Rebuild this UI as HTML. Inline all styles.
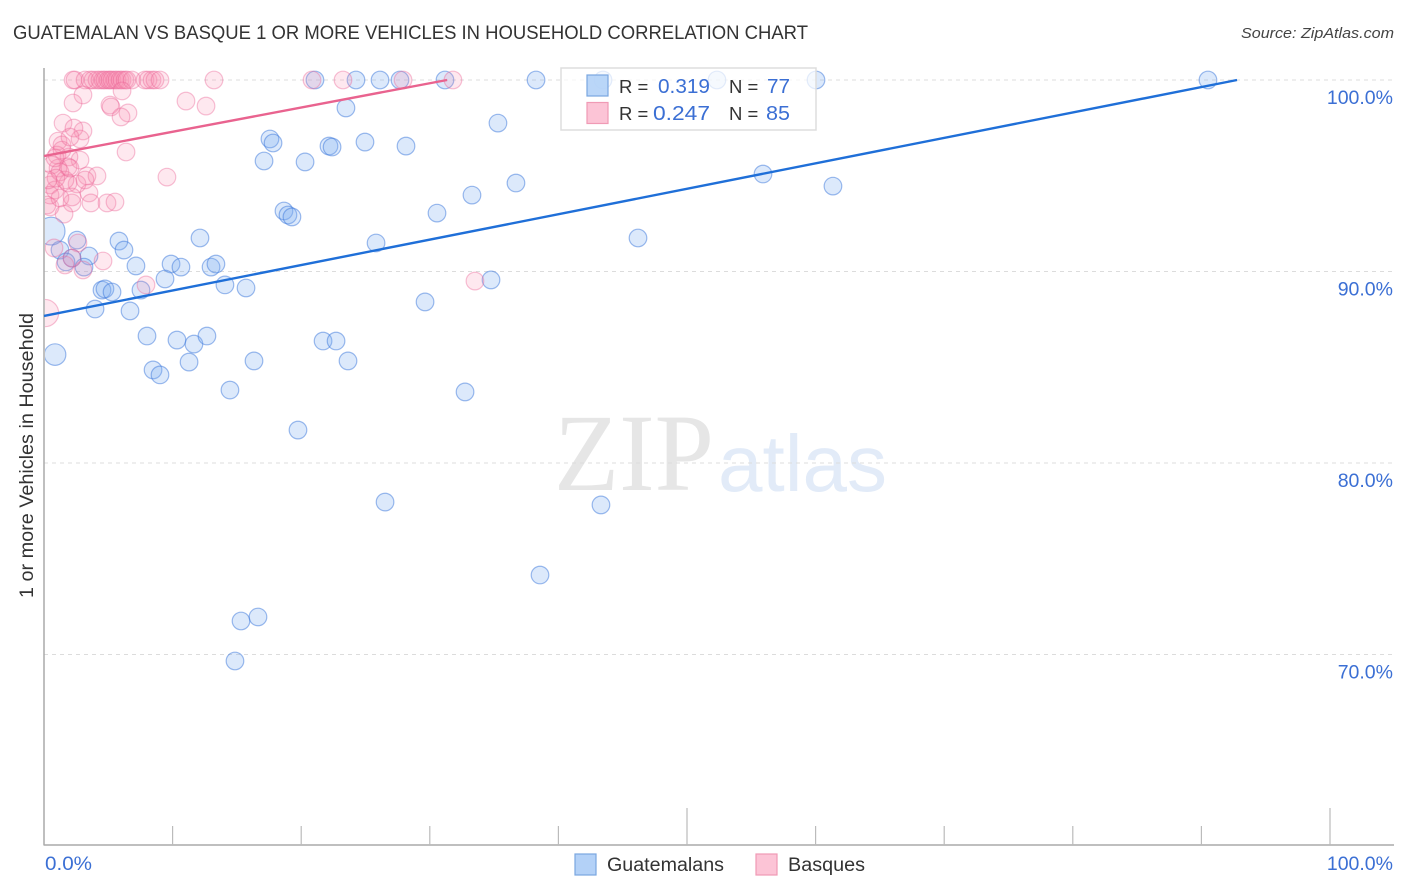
<!DOCTYPE html>
<html lang="en">
<head>
<meta charset="utf-8">
<title>Guatemalan vs Basque 1 or more Vehicles in Household Correlation Chart</title>
<style>
html,body{margin:0;padding:0;background:#fff;width:1406px;height:892px;overflow:hidden}
svg{display:block}
text{font-family:"Liberation Sans",sans-serif}
</style>
</head>
<body>
<svg id="chart" xmlns="http://www.w3.org/2000/svg" width="1406" height="892" viewBox="0 0 1406 892">
  <defs><clipPath id="plot-clip"><rect x="45" y="60" width="1349" height="785"/></clipPath></defs>
  <text x="13" y="39" font-size="19" fill="#333" textLength="795" lengthAdjust="spacingAndGlyphs">GUATEMALAN VS BASQUE 1 OR MORE VEHICLES IN HOUSEHOLD CORRELATION CHART</text>
  <text x="1394" y="38" font-size="15" font-style="italic" fill="#444" text-anchor="end" textLength="153" lengthAdjust="spacingAndGlyphs">Source: ZipAtlas.com</text>
  <text transform="translate(33,598) rotate(-90)" font-size="19" fill="#333" textLength="285" lengthAdjust="spacingAndGlyphs">1 or more Vehicles in Household</text>
  <g>
    <text x="554" y="490" font-size="110" fill="#e6e6e6" style="font-family:'Liberation Serif',serif" textLength="160" lengthAdjust="spacingAndGlyphs">ZIP</text>
    <text x="718" y="491" font-size="80" fill="#e2ebf8" textLength="169" lengthAdjust="spacingAndGlyphs">atlas</text>
  </g>
  <g id="grid"></g>
  <g id="axes"></g>
  <g id="marks" clip-path="url(#plot-clip)"></g>
  <g id="trends"></g>
  <g>
    <rect x="561" y="68" width="255" height="62" fill="#fff" fill-opacity="0.72" stroke="#ddd" stroke-width="1.5"/>
    <rect x="587" y="75" width="21" height="21" fill="#b3d1f7" fill-opacity="0.9" stroke="#7aa6e0" stroke-width="1.2"/>
    <rect x="587" y="102.5" width="21" height="21" fill="#fcc4d6" stroke="#f09ab5" stroke-width="1.2"/>
    <text x="619" y="93" font-size="18.5" fill="#333">R =</text>
    <text x="710" y="93" font-size="20" fill="#3b6fd4" text-anchor="end" textLength="52" lengthAdjust="spacingAndGlyphs">0.319</text>
    <text x="729" y="93" font-size="18.5" fill="#333">N =</text>
    <text x="790" y="93" font-size="20" fill="#3b6fd4" text-anchor="end" textLength="23" lengthAdjust="spacingAndGlyphs">77</text>
    <text x="619" y="120" font-size="18.5" fill="#333">R =</text>
    <text x="710" y="120" font-size="20" fill="#3b6fd4" text-anchor="end" textLength="57" lengthAdjust="spacingAndGlyphs">0.247</text>
    <text x="729" y="120" font-size="18.5" fill="#333">N =</text>
    <text x="790" y="120" font-size="20" fill="#3b6fd4" text-anchor="end" textLength="24" lengthAdjust="spacingAndGlyphs">85</text>
  </g>
  <g>
    <rect x="575" y="854" width="21" height="21" fill="#b3d1f7" stroke="#7aa6e0" stroke-width="1.2"/>
    <text x="607" y="871" font-size="19" fill="#333" textLength="117" lengthAdjust="spacingAndGlyphs">Guatemalans</text>
    <rect x="756" y="854" width="21" height="21" fill="#fcc4d6" stroke="#f09ab5" stroke-width="1.2"/>
    <text x="788" y="871" font-size="19" fill="#333" textLength="77" lengthAdjust="spacingAndGlyphs">Basques</text>
  </g>
</svg>
<script>
const yTickValues = [100, 90, 80, 70];
const yTickLabels = ["100.0%", "90.0%", "80.0%", "70.0%"];
const xTickValues = [0, 10, 20, 30, 40, 50, 60, 70, 80, 90, 100];
const xEndLabels = ["0.0%", "100.0%"];

const guatemalanX = [21.07,24.26,26.13,27.68,31.18,38.26,43.47,52.33,60.03,90.51,23.48,17.57,17.81,17.11,20.30,22.16,22.40,24.96,28.15,35.30,33.28,36.70,30.56,55.91,61.35,18.66,18.97,19.28,25.82,46.19,12.13,5.83,6.22,2.57,1.24,2.18,1.71,3.50,3.11,7.15,9.88,10.65,12.99,13.37,9.41,14.07,15.71,4.51,4.74,5.29,7.54,3.97,6.69,8.01,10.34,11.66,12.67,21.70,22.71,23.64,16.33,11.28,8.48,9.02,14.46,32.74,19.75,26.52,43.31,38.57,15.32,16.64,14.85,29.63,34.76];
const guatemalanY = [100,100,100,100,100,100,100,100,100,100,98.54,96.92,96.71,95.77,95.72,96.55,96.50,96.76,96.55,97.75,93.99,94.62,93.05,95.09,94.46,93.16,92.95,92.85,91.49,91.75,91.75,91.59,91.12,91.64,91.12,90.70,90.50,90.81,90.23,90.29,90.39,90.23,90.23,90.39,89.61,89.30,89.14,89.03,89.09,88.93,89.03,88.04,87.94,86.63,86.42,86.21,86.63,86.37,86.37,85.33,85.33,85.27,84.86,84.60,83.81,83.71,81.72,77.96,77.81,74.15,71.75,71.96,69.66,88.41,89.56];
const guatemalanLargeX = [0.55, 0.86];
const guatemalanLargeY = [92.11, 85.66];
const guatemalanLargeWeight = [2.5, 1.5];

const basqueX = [2.26,2.41,3.19,3.58,3.81,4.12,4.35,4.59,4.74,4.98,5.13,5.29,5.52,5.68,5.91,6.07,6.30,6.45,6.84,7.85,8.09,8.40,8.63,9.02,13.22,20.84,23.25,27.92,31.80,3.03,2.26,5.13,5.21,6.07,6.53,5.99,11.04,12.60,1.48,3.03,2.33,2.80,1.09,6.38,2.80,1.40,1.01,1.94,3.34,4.12,9.56,1.87,1.09,0.47,2.57,1.87,3.50,2.18,3.65,4.90,5.52,1.56,0.47,0.23,0.62,1.24,0.86,1.40,2.02,0.86,0.47,1.24,3.19,1.63,0.93,2.18,0.31,2.02,0.78,2.64,1.63,3.03,4.59,7.93,33.51,2.18];
const basqueY = [100,100,100,100,100,100,100,100,100,100,100,100,100,100,100,100,100,100,100,100,100,100,100,100,100,100,100,100,100,99.22,98.80,98.69,98.59,99.43,98.28,98.07,98.90,98.64,97.75,97.34,97.49,96.92,96.81,96.24,95.82,96.61,96.08,95.98,94.99,94.99,94.93,95.46,95.40,94.52,94.57,94.62,94.10,93.58,93.58,93.58,93.63,93.00,93.37,93.47,95.56,95.20,95.93,96.34,97.02,94.26,93.99,93.84,94.78,94.78,94.88,93.89,94.78,95.40,91.23,91.49,90.34,90.08,90.55,89.30,89.50,90.70];
const basqueLargeX = [0.08];
const basqueLargeY = [87.83];
const basqueLargeWeight = [2.4];

const guatemalanTrendX = [0, 92.77];
const guatemalanTrendY = [87.68, 100];
const basqueTrendX = [0, 31.34];
const basqueTrendY = [96.03, 100];

const NS = "http://www.w3.org/2000/svg";
const xScale = v => 44 + v * 12.86;
const yScale = v => 80 + (100 - v) * 19.15;
const gridLayer = document.getElementById("grid");
const axesLayer = document.getElementById("axes");
const marksLayer = document.getElementById("marks");
const trendsLayer = document.getElementById("trends");

function svgEl(tag, attrs, parent) {
  const el = document.createElementNS(NS, tag);
  for (const k in attrs) el.setAttribute(k, attrs[k]);
  parent.appendChild(el);
  return el;
}

yTickValues.forEach((v, i) => {
  const line = svgEl("line", {x1: 44, x2: 1394, y1: yScale(v), y2: yScale(v), stroke: "#dcdcdc", "stroke-width": 1, "stroke-dasharray": "4 4"}, gridLayer);
  
  
  const label = svgEl("text", {x: 1393, y: yScale(v) + 24, "text-anchor": "end", "font-size": 19.5, fill: "#3b6fd4"}, axesLayer);
  
  
  label.textContent = yTickLabels[i];
});

const yAxisLine = svgEl("line", {x1: 44, x2: 44, y1: 68, y2: 845.5, stroke: "#aaa", "stroke-width": 1.5}, axesLayer);


const xAxisLine = svgEl("line", {x1: 44, x2: 1394, y1: 845, y2: 845, stroke: "#aaa", "stroke-width": 1.5}, axesLayer);



xTickValues.forEach(v => {
  if (v === 0) return;
  const tall = v === 50 || v === 100;
  const tick = svgEl("line", {x1: xScale(v), x2: xScale(v), y1: tall ? 808 : 826, y2: 845, stroke: "#bbb", "stroke-width": 1.2}, axesLayer);
  
  
});

const xLabelStart = svgEl("text", {x: 45, y: 870, "font-size": 19.5, fill: "#3b6fd4", textLength: 47, lengthAdjust: "spacingAndGlyphs"}, axesLayer);


xLabelStart.textContent = xEndLabels[0];
const xLabelEnd = svgEl("text", {x: 1393, y: 870, "text-anchor": "end", "font-size": 19.5, fill: "#3b6fd4"}, axesLayer);


xLabelEnd.textContent = xEndLabels[1];

const BLUE_FILL = "rgba(125,172,240,0.27)";
const BLUE_STROKE = "rgba(60,120,220,0.5)";
const PINK_FILL = "rgba(248,140,175,0.2)";
const PINK_STROKE = "rgba(235,100,150,0.4)";

guatemalanX.forEach((x, i) => {
  const dot = svgEl("circle", {cx: xScale(x), cy: yScale(guatemalanY[i]), r: 8.8, fill: BLUE_FILL, stroke: BLUE_STROKE, "stroke-width": 1.2}, marksLayer);
  
  
});
guatemalanLargeX.forEach((x, i) => {
  const dot = svgEl("circle", {cx: xScale(x), cy: yScale(guatemalanLargeY[i]), r: 8.8 * Math.sqrt(guatemalanLargeWeight[i]), fill: BLUE_FILL, stroke: BLUE_STROKE, "stroke-width": 1.2}, marksLayer);
  
  
});
basqueX.forEach((x, i) => {
  const dot = svgEl("circle", {cx: xScale(x), cy: yScale(basqueY[i]), r: 8.8, fill: PINK_FILL, stroke: PINK_STROKE, "stroke-width": 1.2}, marksLayer);
  
  
});
basqueLargeX.forEach((x, i) => {
  const dot = svgEl("circle", {cx: xScale(x), cy: yScale(basqueLargeY[i]), r: 8.8 * Math.sqrt(basqueLargeWeight[i]), fill: PINK_FILL, stroke: PINK_STROKE, "stroke-width": 1.2}, marksLayer);
  
  
});

const blueTrend = svgEl("line", {x1: xScale(guatemalanTrendX[0]), y1: yScale(guatemalanTrendY[0]), x2: xScale(guatemalanTrendX[1]), y2: yScale(guatemalanTrendY[1]), stroke: "#1f6fd8", "stroke-width": 2.4}, trendsLayer);


const pinkTrend = svgEl("line", {x1: xScale(basqueTrendX[0]), y1: yScale(basqueTrendY[0]), x2: xScale(basqueTrendX[1]), y2: yScale(basqueTrendY[1]), stroke: "#e9638f", "stroke-width": 2.4}, trendsLayer);


</script>
</body>
</html>
